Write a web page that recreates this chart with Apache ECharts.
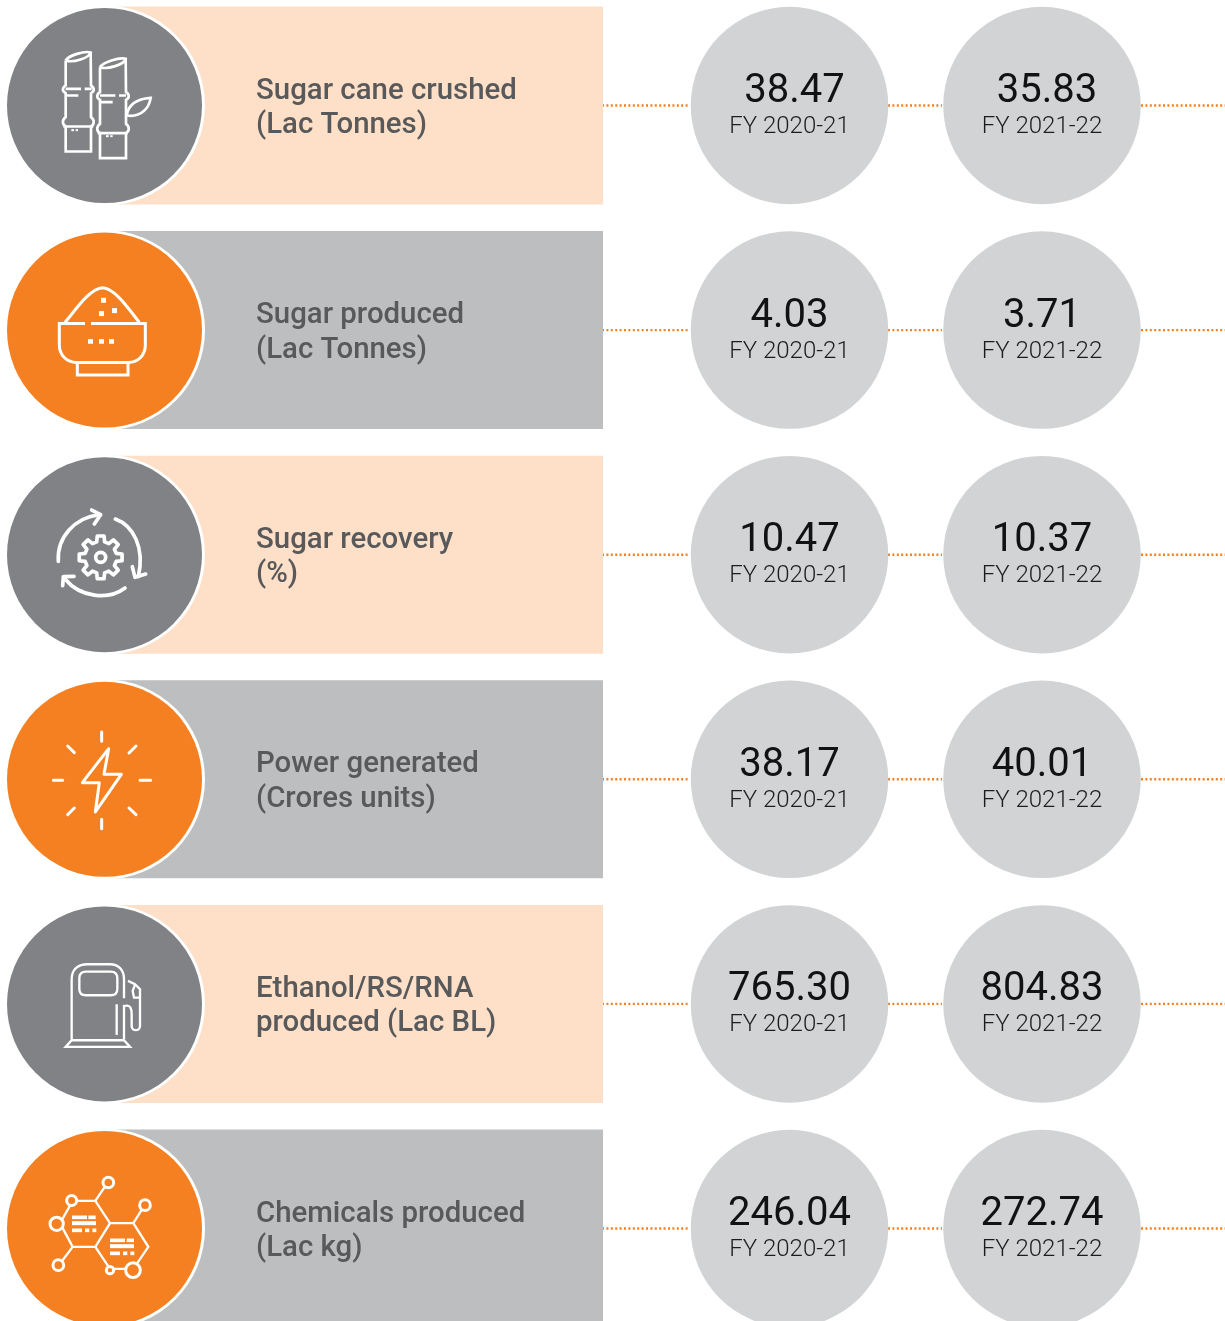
<!DOCTYPE html>
<html>
<head>
<meta charset="utf-8">
<style>
  html, body { margin: 0; padding: 0; background: #fff; }
  #chart { width: 1225px; height: 1321px; }
</style>
</head>
<body>
<div id="chart"></div>
<script src="https://cdn.jsdelivr.net/npm/echarts@6/dist/echarts.min.js"></script>
<script>
const categories = [
  'Sugar cane crushed\n(Lac Tonnes)',
  'Sugar produced\n(Lac Tonnes)',
  'Sugar recovery\n(%)',
  'Power generated\n(Crores units)',
  'Ethanol/RS/RNA\nproduced (Lac BL)',
  'Chemicals produced\n(Lac kg)'
]
const years = ['FY 2020-21', 'FY 2021-22']
const fy2021 = ['38.47', '4.03', '10.47', '38.17', '765.30', '246.04']
const fy2122 = ['35.83', '3.71', '10.37', '40.01', '804.83', '272.74']

const GREY = '#808285'
const ORANGE = '#f58021'
const PEACH = '#fedfc7'
const BAR_GREY = '#bcbec0'
const BUBBLE = '#d1d3d4'
const INK = '#58595b'

const COL_X = [789.5, 1042]
const rowFill = [PEACH, BAR_GREY]
const discFill = [GREY, ORANGE]

// 8 齿齿轮外形,给第三个图标用
function gearPath(cx, cy, rOut, rIn, teeth) {
  let d = ''
  const step = Math.PI * 2 / teeth
  for (let i = 0; i < teeth; i++) {
    const a = i * step - Math.PI / 2
    const pts = [
      [rIn, a - step * 0.32], [rOut, a - step * 0.2],
      [rOut, a + step * 0.2], [rIn, a + step * 0.32]
    ]
    pts.forEach((p, j) => {
      const x = (cx + p[0] * Math.cos(p[1])).toFixed(1)
      const y = (cy + p[0] * Math.sin(p[1])).toFixed(1)
      d += (i === 0 && j === 0 ? 'M' : 'L') + x + ' ' + y + ' '
    })
  }
  return d + 'Z'
}

function ring(cx, cy, r) {
  return `M${cx - r} ${cy} a${r} ${r} 0 1 0 ${r * 2} 0 a${r} ${r} 0 1 0 ${-r * 2} 0 Z`
}

function box(x, y, w, h) {
  return `M${x} ${y} h${w} v${h} h${-w} Z`
}

// 图标坐标按 3 倍放大的截图量取,oy 是圆心在该截图里的 y
const icons = [
  {
    oy: 315, width: 8,
    stroke: [
      'M197 180 C205 165 255 150 272 156 C268 172 220 188 197 180',
      'M197 180 L197 255 C186 262 186 272 197 278 L197 350 C186 358 186 372 197 378 L197 453 L273 453 L273 378 C284 372 284 358 273 350 L273 278 C284 272 284 262 273 255 L272 156',
      'M197 265 L243 265 M254 265 L275 265 M200 285 L235 285 M190 378 L280 378',
      'M300 200 C308 185 358 170 377 175 C373 192 323 208 300 200',
      'M300 200 L300 275 C289 282 289 292 300 298 L300 370 C289 378 289 392 300 398 L300 473 L378 473 L378 398 C389 392 389 378 378 370 L378 298 C389 292 389 282 378 275 L377 175',
      'M300 285 L346 285 M357 285 L378 285 M303 305 L338 305 M293 398 L383 398',
      'M380 345 C385 312 410 295 452 292 C448 320 425 352 380 345'
    ],
    fill: [box(214, 386, 8, 6), box(227, 386, 7, 6), box(318, 404, 8, 6), box(331, 404, 7, 6)]
  },
  {
    oy: 315, width: 9,
    stroke: [
      'M255 295 L178 295 L178 360 C178 390 200 412 230 412 L385 412 C415 412 436 390 436 360 L436 295 L273 295',
      'M232 414 L232 450 L384 450 L384 414',
      'M195 292 C230 250 270 190 308 188 C345 190 385 250 418 292'
    ],
    fill: [box(303, 218, 15, 15), box(297, 258, 15, 15), box(336, 249, 15, 15), box(264, 342, 15, 14), box(297, 342, 15, 14), box(327, 342, 15, 14)]
  },
  {
    oy: 312, width: 11, round: true,
    stroke: [
      'M175 332 C170 260 225 200 298 192',
      'M275 178 L302 192 L283 220',
      'M346 205 C400 225 435 290 415 378',
      'M397 348 L405 380 L437 370',
      'M375 412 C325 450 240 440 195 385',
      'M188 405 L190 378 L222 377',
      gearPath(302, 320, 65, 48, 8),
      ring(302, 320, 15)
    ],
    fill: []
  },
  {
    oy: 312, width: 9, round: true,
    stroke: [
      'M326 220 L247 322 L298 322 L286 410 L364 297 L312 297 Z',
      'M305 170 L305 198 M203 212 L223 232 M408 212 L387 233 M160 315 L188 315',
      'M420 315 L452 315 M203 418 L223 398 M387 398 L408 418 M305 432 L305 460'
    ],
    fill: []
  },
  {
    oy: 309, width: 7,
    stroke: [
      'M215 415 L215 235 C215 205 235 190 262 190 L330 190 C358 190 372 210 372 235 L372 292',
      'M372 312 L372 415',
      'M258 212 L332 212 C345 212 352 220 352 232 L352 264 C352 276 345 283 332 283 L258 283 C245 283 238 276 238 264 L238 232 C238 220 245 212 258 212 Z',
      'M350 310 L350 402',
      'M215 418 L372 418 L390 438 L197 438 Z',
      'M375 315 C392 310 395 325 395 340 L395 375 C395 392 420 392 420 375 L420 265 L405 250 L384 240',
      'M405 252 L398 270 L402 290 L420 290'
    ],
    fill: []
  },
  {
    oy: 321, width: 7,
    stroke: [
      'M218 238 L286 238 L330 305 L286 376 L218 376 L180 305 Z',
      'M330 305 L400 305 L445 376 L400 442 L330 442 L286 376',
      'M286 238 L315 195 M400 305 L425 265 M218 376 L185 420'
    ],
    rings: [[215, 237, 15], [170, 307, 20], [325, 183, 16], [435, 251, 16], [175, 431, 16], [399, 446, 22], [330, 446, 11]],
    fill: [
      box(216, 282, 45, 11), box(265, 282, 22, 11), box(216, 299, 72, 12), box(216, 321, 30, 11), box(255, 321, 13, 11), box(277, 321, 12, 11),
      box(330, 351, 45, 11), box(380, 351, 22, 11), box(330, 368, 72, 12), box(330, 390, 30, 11), box(369, 390, 13, 11), box(391, 390, 12, 11)
    ]
  }
]

function iconGroup(i, cx, cy, bg) {
  const ic = icons[i]
  const children = []
  const lineStyle = {
    fill: 'none', stroke: '#fff', lineWidth: ic.width,
    lineCap: ic.round ? 'round' : 'butt', lineJoin: ic.round ? 'round' : 'miter'
  }
  ic.stroke.forEach((d) => {
    children.push({ type: 'path', shape: { pathData: d }, style: lineStyle })
  })
  ;(ic.rings || []).forEach((r) => {
    children.push({
      type: 'circle',
      shape: { cx: r[0], cy: r[1], r: r[2] },
      style: { fill: bg, stroke: '#fff', lineWidth: ic.width + 2 }
    })
  })
  ic.fill.forEach((d) => {
    children.push({ type: 'path', shape: { pathData: d }, style: { fill: '#fff' } })
  })
  return {
    type: 'group',
    x: cx - 105,
    y: cy - ic.oy / 3,
    scaleX: 1 / 3,
    scaleY: 1 / 3,
    children
  }
}

function renderRow(params, api) {
  const i = api.value(1)
  const c = api.coord([105, i])
  const y = c[1]
  const bg = discFill[i % 2]
  const right = api.coord([603, i])[0]
  const children = []
  // 虚点连接线
  const dotted = [[602, 690], [888, 942], [1141, 1229]]
  dotted.forEach((seg) => {
    children.push({
      type: 'line',
      shape: { x1: api.coord([seg[0], i])[0], y1: y, x2: api.coord([seg[1], i])[0], y2: y },
      style: { stroke: ORANGE, lineWidth: 2.4, lineDash: [2, 2.4] }
    })
  })
  children.push({
    type: 'rect',
    shape: { x: c[0], y: y - 99, width: right - c[0], height: 198 },
    style: { fill: rowFill[i % 2] }
  })
  children.push({ type: 'circle', shape: { cx: c[0], cy: y, r: 100 }, style: { fill: '#fff' } })
  children.push({ type: 'circle', shape: { cx: c[0] - 0.5, cy: y, r: 97.5 }, style: { fill: bg } })
  children.push(iconGroup(i, c[0], y, bg))
  children.push({
    type: 'text',
    x: api.coord([256, i])[0],
    y: y - 31.5,
    style: {
      text: categories[i],
      font: '500 29.4px Roboto',
      fill: INK,
      lineHeight: 34.5,
      textAlign: 'left',
      textVerticalAlign: 'top'
    }
  })
  return { type: 'group', children }
}

function renderValues(params, api) {
  const i = api.value(1)
  const children = []
  COL_X.forEach((x, k) => {
    const val = (k === 0 ? fy2021 : fy2122)[i]
    const p = api.coord([x, i])
    children.push({
      type: 'text',
      x: p[0] + (i === 0 ? 5 : 0),
      y: p[1] - 13.5,
      style: { text: val, font: '400 40px Roboto', fill: '#111214', textAlign: 'center', textVerticalAlign: 'middle' }
    })
    children.push({
      type: 'text',
      x: p[0],
      y: p[1] + 21.5,
      style: { text: years[k], font: '300 24px Roboto', fill: '#1c1c1e', textAlign: 'center', textVerticalAlign: 'middle' }
    })
  })
  return { type: 'group', children }
}

const chart = echarts.init(document.getElementById('chart'), null, { renderer: 'canvas' })
const rowData = categories.map((c, i) => [0, i])
// y 轴用数值轴:行距 224.6,第一行中心落在 105.5
chart.setOption({
  animation: false,
  backgroundColor: '#fff',
  grid: { left: 0, right: 0, top: 0, bottom: 0 },
  xAxis: { type: 'value', min: 0, max: 1225, show: false },
  yAxis: { type: 'value', min: -105.5 / 224.6, max: (1321 - 105.5) / 224.6, inverse: true, show: false },
  series: [
    { type: 'custom', renderItem: renderRow, data: rowData, silent: true, z: 1 },
    {
      type: 'scatter',
      data: fy2021.map((v, i) => [COL_X[0], i]).concat(fy2122.map((v, i) => [COL_X[1], i])),
      symbol: 'circle',
      symbolSize: 197.5,
      itemStyle: { color: BUBBLE, opacity: 1 },
      silent: true,
      clip: false,
      z: 2
    },
    { type: 'custom', renderItem: renderValues, data: rowData, silent: true, z: 3 }
  ]
})
</script>
</body>
</html>
